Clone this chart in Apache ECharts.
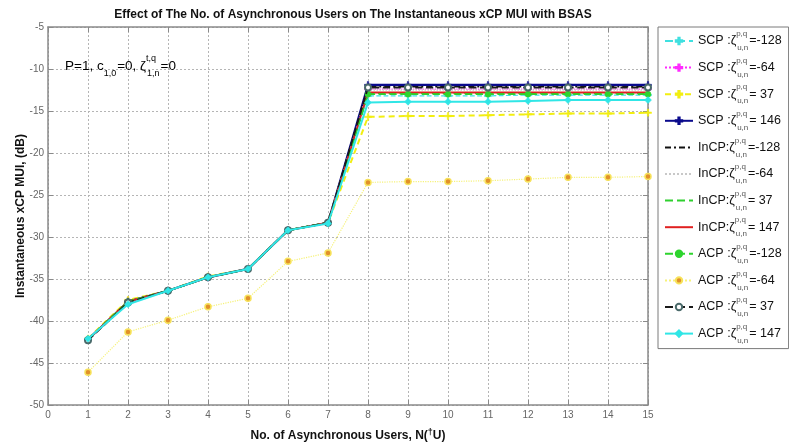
<!DOCTYPE html>
<html>
<head>
<meta charset="utf-8">
<script src="https://cdn.jsdelivr.net/npm/echarts@6/dist/echarts.min.js"></script>
<style>
  html, body { margin: 0; padding: 0; background: #fff; }
  #chart { width: 789px; height: 447px; }
</style>
</head>
<body>
<div id="chart"></div>
<script>
// Number of asynchronous users (x axis)
const users = [1, 2, 3, 4, 5, 6, 7, 8, 9, 10, 11, 12, 13, 14, 15];
const yTicks = [-50, -45, -40, -35, -30, -25, -20, -15, -10, -5];

// Instantaneous MUI in dB for each scheme / offset
const scpM128 = [-42.2, -37.6, -36.4, -34.8, -33.8, -29.2, -28.3, -13.2, -13.2, -13.2, -13.2, -13.1, -13.1, -13.1, -13.1];
const scpM64  = [-42.2, -37.6, -36.4, -34.8, -33.8, -29.2, -28.3, -12.4, -12.4, -12.4, -12.4, -12.4, -12.4, -12.4, -12.4];
const scp37   = [-42.1, -37.5, -36.4, -34.7, -33.8, -29.2, -28.3, -15.7, -15.6, -15.6, -15.5, -15.4, -15.3, -15.3, -15.2];
const scp146  = [-42.2, -37.7, -36.4, -34.8, -33.8, -29.2, -28.3, -11.9, -11.9, -11.9, -11.9, -11.9, -11.9, -11.9, -11.9];
const incpM128 = [-42.2, -37.7, -36.4, -34.8, -33.8, -29.2, -28.3, -12.1, -12.1, -12.1, -12.1, -12.1, -12.1, -12.1, -12.1];
const incpM64  = [-42.2, -37.7, -36.4, -34.8, -33.8, -29.2, -28.3, -12.5, -12.5, -12.5, -12.5, -12.5, -12.5, -12.5, -12.5];
const incp37   = [-42.2, -37.7, -36.4, -34.8, -33.8, -29.2, -28.3, -12.9, -12.9, -12.9, -12.9, -12.9, -12.9, -12.9, -12.9];
const incp147  = [-42.2, -37.7, -36.4, -34.8, -33.8, -29.2, -28.3, -12.8, -12.8, -12.8, -12.8, -12.8, -12.8, -12.8, -12.8];
const acpM128 = [-42.2, -37.7, -36.4, -34.8, -33.8, -29.2, -28.3, -13.0, -13.0, -13.0, -13.0, -13.0, -13.0, -13.0, -13.0];
const acpM64  = [-46.1, -41.3, -39.9, -38.3, -37.3, -32.9, -31.9, -23.5, -23.4, -23.4, -23.3, -23.1, -22.9, -22.9, -22.8];
const acp37   = [-42.3, -37.8, -36.4, -34.8, -33.8, -29.2, -28.3, -12.2, -12.2, -12.2, -12.2, -12.2, -12.2, -12.2, -12.2];
const acp147  = [-42.1, -38.0, -36.4, -34.8, -33.8, -29.2, -28.4, -14.0, -13.9, -13.9, -13.9, -13.8, -13.7, -13.7, -13.7];

const legendPrefix = ['SCP :', 'SCP :', 'SCP :', 'SCP :', 'InCP:', 'InCP:', 'InCP:', 'InCP:', 'ACP :', 'ACP :', 'ACP :', 'ACP :'];
const legendOffset = ['=-128', '=-64', '= 37', '= 146', '=-128', '=-64', '= 37', '= 147', '=-128', '=-64', '= 37', '= 147'];

const FONT = 'Liberation Sans, Arial, sans-serif';
const PLUS = 'path://M4,0 L6,0 L6,4 L10,4 L10,6 L6,6 L6,10 L4,10 L4,6 L0,6 L0,4 L4,4 Z';

function pairs(vals) { return users.map((u, i) => [u, vals[i]]); }

const styles = [
  { v: scpM128, color: '#3fe0e0', type: 'dashed', w: 1.2, sym: PLUS, size: 7 },
  { v: scpM64, color: '#ff2bff', type: 'dotted', w: 1.2, sym: PLUS, size: 7 },
  { v: scp37, color: '#f2ee10', type: [6, 4], w: 2, sym: PLUS, size: 7 },
  { v: scp146, color: '#0a0a8c', type: 'solid', w: 2.2, sym: PLUS, size: 7 },
  { v: incpM128, color: '#111111', type: [6, 3, 2, 3], w: 1.5, sym: 'none', size: 0 },
  { v: incpM64, color: '#c8c8c8', type: 'dotted', w: 1.5, sym: 'none', size: 0 },
  { v: incp37, color: '#2fd02f', type: 'dashed', w: 1.8, sym: 'none', size: 0 },
  { v: incp147, color: '#e02020', type: 'solid', w: 1.8, sym: 'none', size: 0 },
  { v: acpM128, color: '#2ed42e', type: 'dashed', w: 1.8, sym: 'circle', size: 6, fill: '#2ed42e' },
  { v: acpM64, color: '#f6f27a', type: 'dotted', w: 1.2, sym: 'circle', size: 6, fill: '#e0902a', border: '#f7e25a' },
  { v: acp37, color: '#1a1a1a', type: 'dashed', w: 1.8, sym: 'emptyCircle', size: 6, fill: '#4a6a6a', border: '#111' },
  { v: acp147, color: '#30e6e6', type: 'solid', w: 2, sym: 'diamond', size: 7, fill: '#30e6e6' }
];

const names = legendPrefix.map((p, i) => 'S' + i);

const series = styles.map((s, i) => ({
  name: names[i],
  type: 'line',
  data: pairs(s.v),
  symbol: s.sym,
  symbolSize: s.size,
  showSymbol: s.sym !== 'none',
  lineStyle: { color: s.color, width: s.w, type: s.type },
  itemStyle: {
    color: s.fill || s.color,
    borderColor: s.border || s.color,
    borderWidth: s.border ? 1.5 : 0.5
  },
  z: 2 + i,
  animation: false
}));

// Legend entries: series without markers show only their line
const legendData = names.map((n, i) => styles[i].sym === 'none'
  ? { name: n, itemStyle: { opacity: 0 } }
  : { name: n });

const chart = echarts.init(document.getElementById('chart'), null, { renderer: 'canvas' });

const axisGray = '#8a8a8a';
const labelGray = '#666';

chart.setOption({
  animation: false,
  backgroundColor: '#ffffff',
  title: {
    text: 'Effect of The No. of Asynchronous Users on The Instantaneous xCP MUI with BSAS',
    left: 348,
    textAlign: 'center',
    top: 4,
    textStyle: { fontFamily: FONT, fontSize: 12, fontWeight: 'bold', color: '#111' }
  },
  grid: { left: 48, right: 141, top: 27, bottom: 37, containLabel: false },
  legend: {
    orient: 'vertical',
    left: 658,
    top: 27,
    padding: [3, 7, 4, 6],
    itemGap: 4.6,
    itemWidth: 28,
    itemHeight: 8,
    borderColor: '#7a7a7a',
    borderWidth: 1,
    backgroundColor: '#fff',
    data: legendData,
    formatter: function (name) {
      const i = names.indexOf(name);
      return '{m|' + legendPrefix[i] + 'ζ}{sup|p,q}{sub|u,n}{m|' + legendOffset[i] + '}';
    },
    textStyle: {
      fontFamily: FONT,
      color: '#111',
      lineHeight: 22,
      rich: {
        m: { fontFamily: FONT, fontSize: 12.5, color: '#111', lineHeight: 22 },
        sup: { fontFamily: FONT, fontSize: 8, color: '#555', lineHeight: 10, verticalAlign: 'top', width: 1 },
        sub: { fontFamily: FONT, fontSize: 8, color: '#555', lineHeight: 10, verticalAlign: 'bottom', padding: [0, 1, 0, 0] }
      }
    }
  },
  xAxis: [{
    type: 'value',
    min: 0, max: 15, interval: 1,
    name: '{b|No. of Asynchronous Users, N(}{s|†}{b|U)}',
    nameLocation: 'middle',
    nameGap: 23,
    nameMoveOverlap: false,
    nameTextStyle: {
      rich: {
        b: { fontFamily: FONT, fontSize: 12, fontWeight: 'bold', color: '#111', lineHeight: 16 },
        s: { fontFamily: FONT, fontSize: 9, fontWeight: 'bold', color: '#111', lineHeight: 12, verticalAlign: 'top' }
      }
    },
    axisLine: { show: true, onZero: false, lineStyle: { color: axisGray, width: 1.5 } },
    axisTick: { show: true, inside: true, length: 5, lineStyle: { color: axisGray } },
    axisLabel: { color: labelGray, fontFamily: FONT, fontSize: 10, margin: 5 },
    splitLine: { show: true, lineStyle: { color: '#b5b5b5', type: [2, 2], width: 1 } }
  }, {
    type: 'value', position: 'top',
    min: 0, max: 15, interval: 1,
    axisLine: { show: true, onZero: false, lineStyle: { color: axisGray, width: 1.5 } },
    axisTick: { show: true, inside: true, length: 5, lineStyle: { color: axisGray } },
    axisLabel: { show: false },
    splitLine: { show: false }
  }],
  yAxis: [{
    type: 'value',
    min: yTicks[0], max: yTicks[yTicks.length - 1], interval: 5,
    name: 'Instantaneous xCP MUI, (dB)',
    nameLocation: 'middle',
    nameGap: 21,
    nameMoveOverlap: false,
    nameTextStyle: { fontFamily: FONT, fontSize: 12, fontWeight: 'bold', color: '#111' },
    axisLine: { show: true, onZero: false, lineStyle: { color: axisGray, width: 1.5 } },
    axisTick: { show: true, inside: true, length: 5, lineStyle: { color: axisGray } },
    axisLabel: { color: labelGray, fontFamily: FONT, fontSize: 10, margin: 4 },
    splitLine: { show: true, lineStyle: { color: '#b5b5b5', type: [2, 2], width: 1 } }
  }, {
    type: 'value', position: 'right',
    min: yTicks[0], max: yTicks[yTicks.length - 1], interval: 5,
    axisLine: { show: true, onZero: false, lineStyle: { color: axisGray, width: 1.5 } },
    axisTick: { show: true, inside: true, length: 5, lineStyle: { color: axisGray } },
    axisLabel: { show: false },
    splitLine: { show: false }
  }],
  graphic: [{
    type: 'text',
    left: 65,
    top: 54,
    z: 50,
    style: {
      text: '{m|P=1, c}{sub|1,0}{m|=0, ζ}{sup|t,q}{sub|1,n}{m|=0}',
      rich: {
        m: { fontFamily: FONT, fontSize: 13.5, color: '#111', lineHeight: 24 },
        sup: { fontFamily: FONT, fontSize: 9, color: '#444', lineHeight: 11, verticalAlign: 'top', width: 1 },
        sub: { fontFamily: FONT, fontSize: 9, color: '#444', lineHeight: 11, verticalAlign: 'bottom', padding: [0, 1, 0, 0] }
      }
    }
  }],
  series: series
});
</script>
</body>
</html>
